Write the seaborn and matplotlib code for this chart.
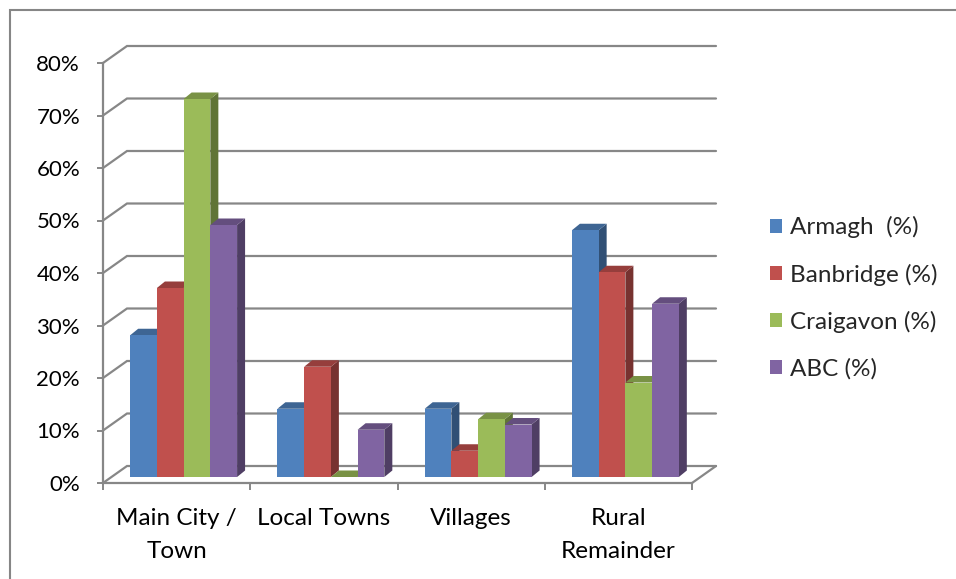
import numpy as np
import pandas as pd
import matplotlib
matplotlib.use("Agg")
import matplotlib.pyplot as plt
import seaborn as sns
from matplotlib.transforms import Affine2D, IdentityTransform
from matplotlib.patches import Polygon, Patch, Rectangle
from matplotlib.lines import Line2D
import matplotlib.colors as mcolors

# ---- data -------------------------------------------------------------
categories = ["Main City /\nTown", "Local Towns", "Villages", "Rural\nRemainder"]
series = ["Armagh  (%)", "Banbridge (%)", "Craigavon (%)", "ABC (%)"]
armagh = [27, 13, 13, 47]
banbridge = [36, 21, 5, 39]
craigavon = [72, 0, 11, 18]
abc = [48, 9, 10, 33]
y_ticks = [0, 10, 20, 30, 40, 50, 60, 70, 80]
y_tick_labels = ["0%", "10%", "20%", "30%", "40%", "50%", "60%", "70%", "80%"]
colors = ["#4F81BD", "#C0504D", "#9BBB59", "#8064A2"]

rows = []
for name, vals in zip(series, [armagh, banbridge, craigavon, abc]):
    for cat, v in zip(categories, vals):
        rows.append({"category": cat, "series": name, "value": v})
df = pd.DataFrame(rows)

# ---- style ------------------------------------------------------------
sns.set_theme(style="white")
plt.rcParams["font.family"] = ["Lato", "DejaVu Sans"]
FS = 17.5
FS_Y = 16
GRID = "#878787"

W, H = 956, 579
fig = plt.figure(figsize=(W / 100, H / 100), dpi=100)
fig.patch.set_facecolor("white")
ax = fig.add_axes([103 / W, (H - 483) / H, 589 / W, 420 / H])

sns.barplot(data=df, x="category", y="value", hue="series", palette=colors,
            order=categories, hue_order=series, width=0.726, saturation=1,
            legend=False, ax=ax, linewidth=0, zorder=3)

ax.set_xlim(-0.5, len(categories) - 0.5)
ax.set_ylim(0, 80)
ax.autoscale(False)
ax.set_facecolor("none")
ax.set_xlabel("")
ax.set_ylabel("")

# offsets in pixels: bar plane and back wall relative to front plane
BAR_OFF = (7, 6)
BAR_DEPTH = (8, 6.5)
BACK_OFF = (24, 17)


def px(x, y):
    return ax.transData.transform((x, y))


def darker(c, f):
    r, g, b = mcolors.to_rgb(c)
    return (r * f, g * f, b * f)


# back wall gridlines + side wall diagonals
for yv in y_ticks:
    x0, y0 = px(-0.5, yv)
    x1, y1 = px(len(categories) - 0.5, yv)
    pts = [(x0, y0), (x0 + BACK_OFF[0], y0 + BACK_OFF[1]),
           (x1 + BACK_OFF[0], y1 + BACK_OFF[1])]
    ax.add_line(Line2D([p[0] for p in pts], [p[1] for p in pts],
                       transform=IdentityTransform(), color=GRID, lw=1.6,
                       zorder=1, clip_on=False, solid_joinstyle="miter"))
# floor right edge
x1, y1 = px(len(categories) - 0.5, 0)
ax.add_line(Line2D([x1, x1 + BACK_OFF[0]], [y1, y1 + BACK_OFF[1]],
                   transform=IdentityTransform(), color=GRID, lw=1.6,
                   zorder=1, clip_on=False))

# shift bars into their plane and add the top and side faces
bars = sorted(ax.patches, key=lambda p: p.get_x())
bar_shift = ax.transData + Affine2D().translate(*BAR_OFF)
for i, p in enumerate(bars):
    fc = p.get_facecolor()
    z = 3 + 0.01 * i
    p.set_transform(bar_shift)
    p.set_zorder(z)
    p.set_clip_on(False)
    xa, xb, h = p.get_x(), p.get_x() + p.get_width(), p.get_height()
    (ax0, ah) = px(xa, h)
    (bx0, bh) = px(xb, h)
    (_, b0) = px(xb, 0)
    ox, oy = BAR_OFF
    dx, dy = BAR_DEPTH
    top = [(ax0 + ox, ah + oy), (bx0 + ox, bh + oy),
           (bx0 + ox + dx, bh + oy + dy), (ax0 + ox + dx, ah + oy + dy)]
    side = [(bx0 + ox, b0 + oy), (bx0 + ox, bh + oy),
            (bx0 + ox + dx, bh + oy + dy), (bx0 + ox + dx, b0 + oy + dy)]
    ax.add_patch(Polygon(side, closed=True, transform=IdentityTransform(),
                         facecolor=darker(fc, 0.62), edgecolor="none",
                         zorder=z - 0.005, clip_on=False))
    ax.add_patch(Polygon(top, closed=True, transform=IdentityTransform(),
                         facecolor=darker(fc, 0.78), edgecolor="none",
                         zorder=z - 0.004, clip_on=False))

# axes: front vertical axis and floor front edge
for s in ["top", "right"]:
    ax.spines[s].set_visible(False)
for s in ["left", "bottom"]:
    ax.spines[s].set_color(GRID)
    ax.spines[s].set_linewidth(1.6)
    ax.spines[s].set_zorder(6)

ax.set_yticks(y_ticks)
ax.set_yticklabels(y_tick_labels, fontsize=FS_Y, color="black")
ax.tick_params(axis="y", direction="out", length=4.5, width=1.4, color=GRID,
               pad=12, left=True)

n = len(categories)
ax.set_xticks(np.arange(-0.5, n, 1.0))
ax.set_xticklabels([""] * (n + 1))
ax.set_xticks(np.arange(n), minor=True)
ax.set_xticklabels(categories, minor=True, fontsize=FS, color="black",
                   linespacing=1.68)
ax.tick_params(axis="x", which="major", direction="out", length=5, width=1.4,
               color=GRID, bottom=True)
ax.tick_params(axis="x", which="minor", length=0, pad=18)
ax.grid(False)

# legend
handles = [Patch(facecolor=c, edgecolor="none") for c in colors]
fig.legend(handles, series, loc="center left",
           bbox_to_anchor=(760 / W, 1 - 298 / H), frameon=False,
           fontsize=FS, handlelength=0.5, handleheight=0.5,
           handletextpad=0.35, labelspacing=1.04, borderaxespad=0)

# chart area border (left and top edges)
fig.add_artist(Rectangle((9.5 / W, -0.1), 1.2, 1.1 - 10 / H,
                         transform=fig.transFigure, fill=False,
                         edgecolor="#868686", linewidth=1.5))

fig.savefig("out.png", dpi=100)
